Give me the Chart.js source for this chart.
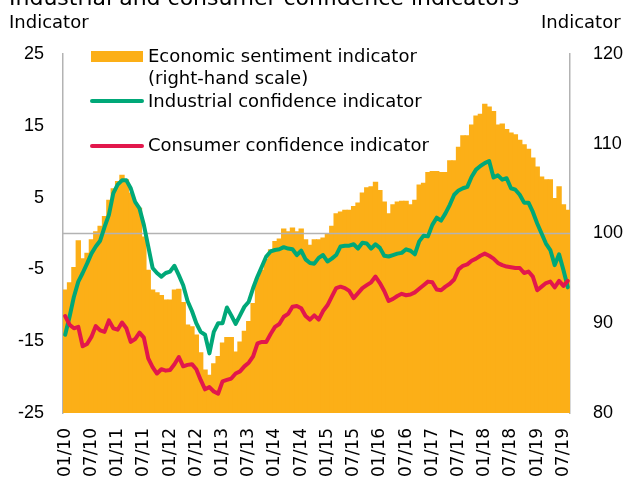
<!DOCTYPE html>
<html>
<head>
<meta charset="utf-8">
<script src="https://cdn.jsdelivr.net/npm/chart.js@4.4.1/dist/chart.umd.min.js"></script>
<style>
  html, body { margin: 0; padding: 0; background: #fff; }
  #wrap { width: 626px; height: 481px; }
</style>
</head>
<body>
<div id="wrap"><canvas id="chart" width="626" height="481"></canvas></div>
<script>
// Monthly categories 01/10 .. 08/19
const MONTHS = [
  '01/10','02/10','03/10','04/10','05/10','06/10','07/10','08/10','09/10','10/10','11/10','12/10',
  '01/11','02/11','03/11','04/11','05/11','06/11','07/11','08/11','09/11','10/11','11/11','12/11',
  '01/12','02/12','03/12','04/12','05/12','06/12','07/12','08/12','09/12','10/12','11/12','12/12',
  '01/13','02/13','03/13','04/13','05/13','06/13','07/13','08/13','09/13','10/13','11/13','12/13',
  '01/14','02/14','03/14','04/14','05/14','06/14','07/14','08/14','09/14','10/14','11/14','12/14',
  '01/15','02/15','03/15','04/15','05/15','06/15','07/15','08/15','09/15','10/15','11/15','12/15',
  '01/16','02/16','03/16','04/16','05/16','06/16','07/16','08/16','09/16','10/16','11/16','12/16',
  '01/17','02/17','03/17','04/17','05/17','06/17','07/17','08/17','09/17','10/17','11/17','12/17',
  '01/18','02/18','03/18','04/18','05/18','06/18','07/18','08/18','09/18','10/18','11/18','12/18',
  '01/19','02/19','03/19','04/19','05/19','06/19','07/19','08/19'
];

// Economic sentiment indicator (right-hand scale)
const ESI = [
  93.7, 94.5, 96.2, 99.2, 97.2, 97.8, 99.3, 100.2, 100.8, 101.9, 103.7, 105.0,
  105.8, 106.5, 106.0, 104.5, 103.4, 102.8, 99.6, 95.9, 93.7, 93.4, 93.1, 92.6,
  92.6, 93.7, 93.8, 92.3, 89.8, 89.6, 88.7, 86.7, 84.8, 84.2, 85.5, 86.3,
  87.8, 88.4, 88.4, 86.8, 87.9, 89.1, 90.2, 92.2, 95.0, 95.9, 97.1, 98.2,
  99.1, 99.4, 100.5, 100.2, 100.6, 100.2, 100.5, 99.3, 98.7, 99.3, 99.3, 99.5,
  100.0, 100.8, 102.2, 102.4, 102.6, 102.6, 103.0, 103.4, 104.5, 105.1, 105.2, 105.7,
  104.8, 103.5, 102.2, 103.2, 103.5, 103.6, 103.6, 103.2, 103.7, 105.4, 105.6, 106.8,
  106.9, 106.9, 106.8, 106.8, 108.1, 108.1, 109.6, 110.9, 110.9, 112.1, 113.1, 113.3,
  114.4, 114.1, 113.6, 112.1, 112.2, 111.6, 111.2, 111.0, 110.4, 109.9, 109.4, 108.4,
  107.4, 106.3, 106.0, 106.0, 103.9, 105.2, 103.2, 102.6
];

// Industrial confidence indicator
const INDUSTRIAL = [
  -14.1, -11.6, -8.8, -6.7, -5.5, -4.2, -2.8, -1.8, -1.0, 0.9, 2.6, 5.6,
  6.8, 7.4, 7.4, 6.3, 4.4, 3.5, 1.2, -1.8, -4.8, -5.5, -6.0, -5.5,
  -5.3, -4.5, -5.8, -7.2, -9.4, -10.8, -12.5, -13.7, -14.1, -16.7, -13.7, -12.5,
  -12.5, -10.3, -11.4, -12.6, -11.4, -10.2, -9.5, -7.6, -6.0, -4.6, -3.2, -2.5,
  -2.3, -2.2, -1.9, -2.1, -2.2, -3.0, -2.4, -3.6, -4.1, -4.2, -3.4, -3.0,
  -3.9, -3.5, -3.0, -1.8, -1.7, -1.7, -1.5, -2.1, -1.3, -1.4, -2.1, -1.5,
  -2.0, -3.1, -3.2, -3.0, -2.8, -2.7, -2.2, -2.4, -2.9, -1.1, -0.3, -0.4,
  1.2, 2.2, 1.8, 2.8, 4.0, 5.4, 6.0, 6.3, 6.5, 7.9, 8.9, 9.4,
  9.8, 10.1, 7.8, 8.1, 7.5, 7.7, 6.3, 6.1, 5.4, 4.3, 4.3, 3.0,
  1.4, 0.0, -1.4, -2.3, -4.4, -2.9, -5.1, -7.5
];

// Consumer confidence indicator
const CONSUMER = [
  -11.5, -12.7, -13.2, -13.0, -15.7, -15.4, -14.4, -12.9, -13.5, -13.7, -12.1, -13.2,
  -13.4, -12.4, -13.2, -15.1, -14.7, -13.8, -14.5, -17.4, -18.6, -19.5, -18.9, -19.1,
  -19.0, -18.2, -17.2, -18.5, -18.3, -18.2, -18.9, -20.4, -21.7, -21.4, -22.0, -22.3,
  -20.6, -20.4, -20.2, -19.5, -19.2, -18.5, -18.0, -17.1, -15.3, -15.1, -15.1, -14.0,
  -13.0, -12.6, -11.6, -11.2, -10.2, -10.1, -10.4, -11.5, -12.0, -11.4, -12.0, -10.8,
  -10.0, -8.8, -7.6, -7.4, -7.6, -8.0, -9.0, -8.3, -7.6, -7.2, -6.8, -6.0,
  -6.9, -8.0, -9.4, -9.1, -8.7, -8.4, -8.6, -8.5, -8.2, -7.7, -7.2, -6.7,
  -6.8, -7.8, -7.9, -7.4, -7.0, -6.4, -5.0, -4.5, -4.3, -3.8, -3.5, -3.1,
  -2.8, -3.1, -3.5, -4.1, -4.4, -4.6, -4.7, -4.8, -4.8, -5.5, -5.3, -6.0,
  -7.9, -7.4, -6.9, -6.7, -7.5, -6.6, -7.3, -6.6
];

const LEFT_TICKS = [-25, -15, -5, 5, 15, 25];
const RIGHT_TICKS = [80, 90, 100, 110, 120];

const ORANGE = 'rgb(252,175,23)';
const GREEN = 'rgb(0,168,120)';
const RED = 'rgb(226,23,76)';
const GREY = '#b3b3b3';
const TEXT = '#000';
const VERDANA = '"DejaVu Sans", Verdana, sans-serif';
const ARIAL = '"Liberation Sans", Arial, sans-serif';

// zero line sits above the bars but under the two lines
const zeroLine = {
    id: 'zeroLine',
    afterDatasetDraw(chart, args) {
        if (args.meta.type !== 'bar') return;
        const { ctx, chartArea } = chart;
        const y = chart.scales.y.getPixelForValue(0);
        ctx.save();
        ctx.strokeStyle = GREY;
        ctx.lineWidth = 1.5;
        ctx.beginPath();
        ctx.moveTo(chartArea.left, y);
        ctx.lineTo(chartArea.right, y);
        ctx.stroke();
        ctx.restore();
    }
};

// title, axis titles and the legend
const overlay = {
    id: 'overlay',
    afterDraw(chart) {
        const ctx = chart.ctx;
        ctx.save();
        ctx.fillStyle = TEXT;
        ctx.textAlign = 'left';

        ctx.font = '22px ' + VERDANA;
        ctx.textBaseline = 'alphabetic';
        ctx.fillText('Industrial and consumer confidence indicators', 9, 4.5);

        ctx.font = '18px ' + VERDANA;
        ctx.textBaseline = 'middle';
        ctx.fillText('Indicator', 9, 23);
        ctx.fillText('Indicator', 541, 23);

        // legend
        ctx.fillStyle = ORANGE;
        ctx.fillRect(91, 51, 52, 11);
        ctx.lineWidth = 4;
        ctx.lineCap = 'round';
        ctx.strokeStyle = GREEN;
        ctx.beginPath(); ctx.moveTo(92, 101); ctx.lineTo(142, 101); ctx.stroke();
        ctx.strokeStyle = RED;
        ctx.beginPath(); ctx.moveTo(92, 146); ctx.lineTo(142, 146); ctx.stroke();

        ctx.fillStyle = TEXT;
        ctx.fillText('Economic sentiment indicator', 148, 57);
        ctx.fillText('(right-hand scale)', 148, 79);
        ctx.fillText('Industrial confidence indicator', 148, 102);
        ctx.fillText('Consumer confidence indicator', 148, 146);
        ctx.restore();
    }
};

new Chart(document.getElementById('chart'), {
    data: {
        labels: MONTHS,
        datasets: [
            {
                type: 'line', label: 'Consumer confidence indicator', data: CONSUMER, yAxisID: 'y',
                borderColor: RED, borderWidth: 4, pointRadius: 0, tension: 0,
                borderJoinStyle: 'round', borderCapStyle: 'round', order: 1,
            },
            {
                type: 'line', label: 'Industrial confidence indicator', data: INDUSTRIAL, yAxisID: 'y',
                borderColor: GREEN, borderWidth: 4, pointRadius: 0, tension: 0,
                borderJoinStyle: 'round', borderCapStyle: 'round', order: 2,
            },
            {
                type: 'bar', label: 'Economic sentiment indicator', data: ESI, yAxisID: 'y1',
                backgroundColor: ORANGE, borderWidth: 0, barPercentage: 1, categoryPercentage: 1,
                inflateAmount: 0.5, order: 3,
            },
        ],
    },
    options: {
        responsive: false,
        animation: false,
        devicePixelRatio: 1,
        layout: { padding: { top: 54, left: 0, right: 0, bottom: 0 } },
        plugins: { legend: { display: false }, tooltip: { enabled: false }, title: { display: false } },
        scales: {
            x: {
                type: 'category',
                offset: true,
                grid: { display: false, drawTicks: false },
                border: { display: false },
                ticks: {
                    autoSkip: false, minRotation: 90, maxRotation: 90, padding: 15,
                    color: TEXT, font: { family: VERDANA, size: 17 },
                    callback: (v, i) => (i % 6 === 0 ? MONTHS[i] : null),
                },
                afterFit: s => { s.height = 68; },
            },
            y: {
                position: 'left', min: -25, max: 25,
                grid: { display: false, drawTicks: false },
                border: { display: true, color: GREY, width: 1.5 },
                ticks: { padding: 19, color: TEXT, font: { family: ARIAL, size: 18 } },
                afterBuildTicks: s => { s.ticks = LEFT_TICKS.map(v => ({ value: v })); },
                afterFit: s => { s.width = 63; },
            },
            y1: {
                position: 'right', min: 80, max: 120,
                grid: { display: false, drawTicks: false },
                border: { display: true, color: GREY, width: 1.5 },
                ticks: { padding: 23, color: TEXT, font: { family: ARIAL, size: 18 } },
                afterBuildTicks: s => { s.ticks = RIGHT_TICKS.map(v => ({ value: v })); },
                afterFit: s => { s.width = 56; },
            },
        },
    },
    plugins: [zeroLine, overlay],
});
</script>
</body>
</html>
